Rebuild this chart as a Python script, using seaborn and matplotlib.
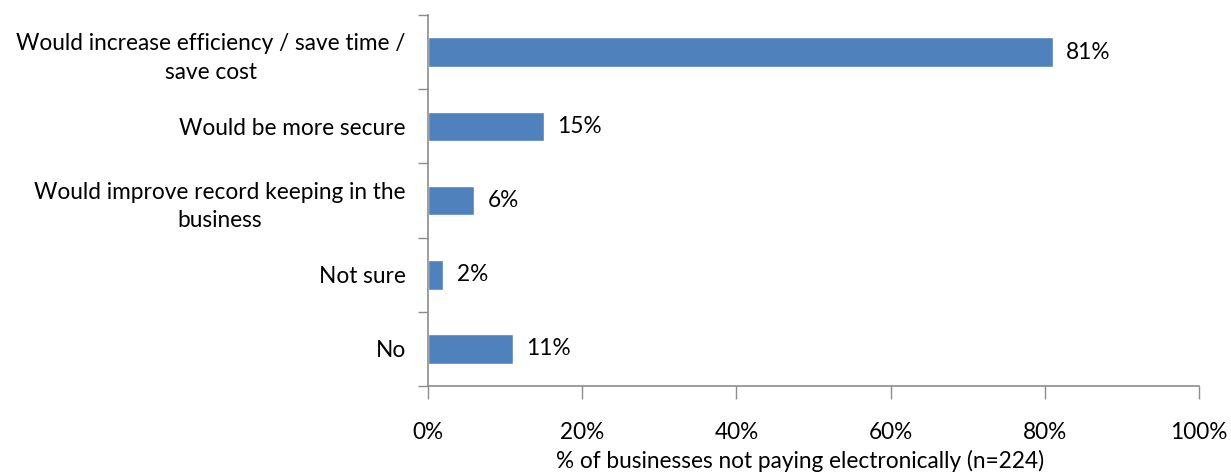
import pandas as pd
import matplotlib.pyplot as plt
import seaborn as sns
from matplotlib.ticker import FixedLocator, PercentFormatter

categories = [
    "Would increase efficiency / save time /\nsave cost",
    "Would be more secure",
    "Would improve record keeping in the\nbusiness",
    "Not sure",
    "No",
]
values = [81, 15, 6, 2, 11]

df = pd.DataFrame({"reason": categories, "pct": values})

sns.set_style("white")
plt.rcParams["font.family"] = ["Lato", "DejaVu Sans"]
fs = 16.3

fig = plt.figure(figsize=(12.31, 4.73), dpi=100)
ax = fig.add_axes([0.3477, 0.184, 0.6263, 0.784])

sns.barplot(data=df, x="pct", y="reason", orient="h", color="#4F81BD",
            width=0.4, saturation=1, ax=ax)

for i, v in enumerate(values):
    ax.text(v + 1.7, i, f"{v}%", va="center", ha="left", fontsize=fs, color="black")

ax.set_xlim(0, 100)
ax.set_ylim(len(categories) - 0.5, -0.5)
ax.xaxis.set_major_locator(FixedLocator([0, 20, 40, 60, 80, 100]))
ax.xaxis.set_major_formatter(PercentFormatter(decimals=0))
ax.tick_params(axis="x", direction="out", length=9, width=1, color="#8c8c8c",
               pad=17, labelsize=fs, labelcolor="black", bottom=True)

# y-axis tick marks sit between categories
ax.yaxis.set_minor_locator(FixedLocator([i - 0.5 for i in range(len(categories) + 1)]))
ax.tick_params(axis="y", which="major", length=0, pad=16, labelsize=fs, labelcolor="black")
ax.tick_params(axis="y", which="minor", direction="out", length=7, width=1,
               color="#8c8c8c", left=True)
for lab in ax.get_yticklabels():
    lab.set_multialignment("center")
    lab.set_linespacing(1.45)

ax.set_ylabel("")
ax.set_xlabel("% of businesses not paying electronically (n=224)", fontsize=fs,
              color="black", labelpad=0)
ax.xaxis.set_label_coords(0.482, -0.172)

for side in ["top", "right"]:
    ax.spines[side].set_visible(False)
for side in ["left", "bottom"]:
    ax.spines[side].set_color("#8c8c8c")
    ax.spines[side].set_linewidth(1.2)

fig.savefig("out.png", dpi=100)
